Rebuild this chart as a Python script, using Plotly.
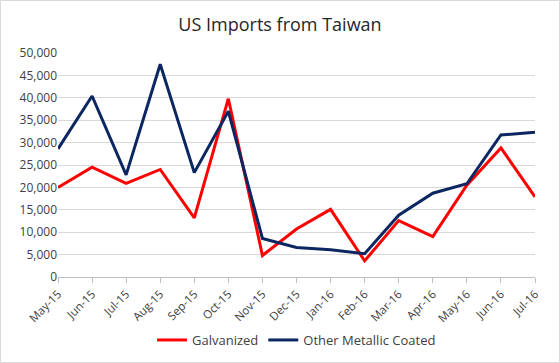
import plotly.graph_objects as go

months = ["May-15", "Jun-15", "Jul-15", "Aug-15", "Sep-15", "Oct-15", "Nov-15", "Dec-15",
          "Jan-16", "Feb-16", "Mar-16", "Apr-16", "May-16", "Jun-16", "Jul-16"]
galvanized = [20000, 24500, 20900, 24000, 13200, 39800, 4800, 10700,
              15100, 3600, 12600, 9000, 20500, 28800, 17900]
other_coated = [28600, 40400, 22800, 47500, 23300, 37000, 8600, 6600,
                6100, 5200, 13800, 18700, 20800, 31700, 32300]
y_ticks = [0, 5000, 10000, 15000, 20000, 25000, 30000, 35000, 40000, 45000, 50000]

fig = go.Figure()
fig.add_trace(go.Scatter(x=months, y=galvanized, mode="lines", name="Galvanized",
                         line=dict(color="#ff0000", width=3)))
fig.add_trace(go.Scatter(x=months, y=other_coated, mode="lines", name="Other Metallic Coated",
                         line=dict(color="#0b2660", width=3)))

L, R, T, B = 58, 25, 53, 86
W, H = 560, 363
pw, ph = W - L - R, H - T - B

fig.update_layout(
    width=W, height=H,
    margin=dict(l=L, r=R, t=T, b=B, autoexpand=False),
    paper_bgcolor="white", plot_bgcolor="white",
    font=dict(family="Open Sans, Noto Sans, sans-serif", color="#404040", size=12),
    title=dict(text="US Imports from Taiwan", x=0.5, xanchor="center", y=1 - 25 / H, yanchor="middle",
               font=dict(size=18, color="#262626")),
    showlegend=True,
    legend=dict(orientation="h", x=0.5, xanchor="center", y=(277 - 340) / ph, yanchor="middle",
                font=dict(size=13, color="#404040"), itemwidth=30),
    xaxis=dict(type="category", range=[0, len(months) - 1], tickangle=-45, automargin=False,
               showline=True, linecolor="#bfbfbf", linewidth=1,
               ticks="outside", ticklen=5, tickcolor="#bfbfbf",
               showgrid=False, tickfont=dict(size=11.5, color="#404040")),
    yaxis=dict(range=[0, 50000], tickvals=y_ticks, tickformat=",", automargin=False,
               showgrid=True, gridcolor="#d9d9d9", gridwidth=1,
               zeroline=False, showline=False, ticks="",
               tickfont=dict(size=12, color="#404040")),
    shapes=[dict(type="rect", xref="paper", yref="paper",
                 x0=(0.5 - L) / pw, x1=(W - 0.5 - L) / pw,
                 y0=(H - B - (H - 0.5)) / ph, y1=(H - B - 0.5) / ph,
                 line=dict(color="#d9d9d9", width=1), layer="below")],
)

fig.write_html("out.html", config={"displayModeBar": False},
               post_script="document.body.style.margin='0';document.body.style.overflow='hidden';")
